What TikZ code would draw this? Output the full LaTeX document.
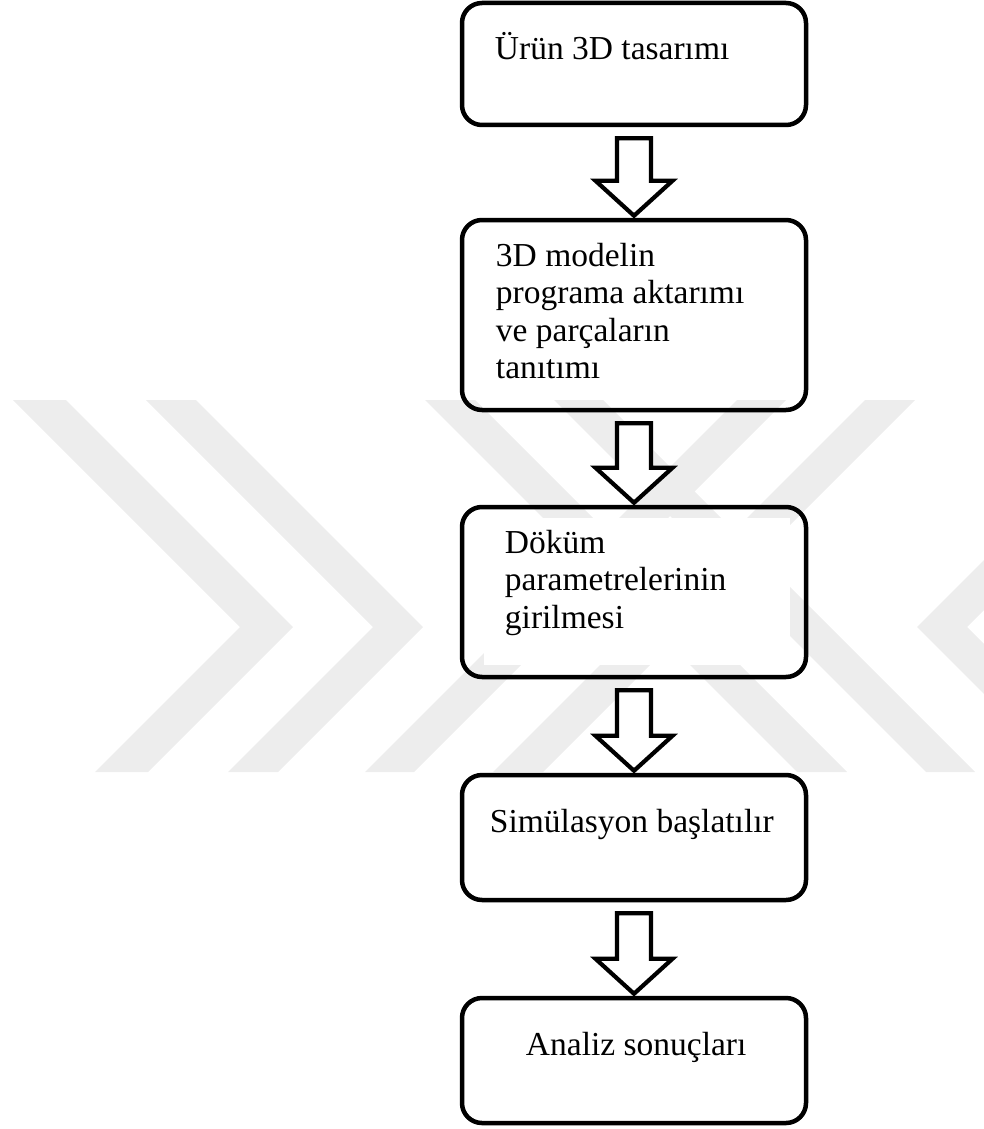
\documentclass[tikz,border=0pt]{standalone}
\usepackage{fontspec}
\setmainfont{Liberation Serif}
\usetikzlibrary{calc}

\definecolor{wmgray}{RGB}{237,237,237}

\tikzset{
  stepbox/.style={draw=black, line width=4.5pt, rounded corners=20pt,
    rectangle, minimum width=344pt, inner sep=0pt},
  steptext/.style={anchor=base west, inner sep=0pt, align=left,
    font=\fontsize{33.5pt}{37.5pt}\selectfont},
  blockarrow/.style={draw=black, fill=white, line width=4.2pt, line join=miter},
  wmark/.style={fill=wmgray, draw=none}
}

% hollow block arrow from the bottom of one box to the top of the next
\newcommand\flowarrow[2]{%
  \draw[blockarrow] let \p1=(#1.south), \p2=(#2.north) in
    (\x1-17pt,\y1-11pt) -- (\x1+17pt,\y1-11pt) -- (\x1+17pt,\y2+37pt)
    -- (\x1+38.5pt,\y2+37pt) -- (\x1,\y2+2pt) -- (\x1-38.5pt,\y2+37pt)
    -- (\x1-17pt,\y2+37pt) -- cycle;}

\begin{document}
\begin{tikzpicture}[x=1pt,y=-1pt]
\useasboundingbox (0,0) rectangle (984,1129);

% background watermark stripes
\begin{scope}
  \clip (0,400) rectangle (984,772);
  % two nested chevrons on the left
  \fill[wmark] (13,400) -- (66,400) -- (293,627) -- (148,772) -- (95,772) -- (240,627) -- cycle;
  \fill[wmark] (146,400) -- (196,400) -- (423,627) -- (278,772) -- (228,772) -- (373,627) -- cycle;
  % crossing diagonal stripes in the middle
  \fill[wmark] (365,772) -- (414,772) -- (786,400) -- (737,400) -- cycle;
  \fill[wmark] (493,772) -- (543,772) -- (915,400) -- (865,400) -- cycle;
  \fill[wmark] (425,400) -- (475,400) -- (847,772) -- (797,772) -- cycle;
  \fill[wmark] (554,400) -- (603,400) -- (975,772) -- (926,772) -- cycle;
  % mirrored chevron at the right edge
  \fill[wmark] (1194,400) -- (1144,400) -- (917,627) -- (1062,772) -- (1112,772) -- (967,627) -- cycle;
\end{scope}

% process boxes
\node[stepbox, minimum height=122pt] (b1) at (634,64) {};
\node[stepbox, minimum height=190pt] (b2) at (634,315) {};
\node[stepbox, minimum height=170pt] (b3) at (634,592) {};
\node[stepbox, minimum height=125pt] (b4) at (634,837.5) {};
\node[stepbox, minimum height=125pt] (b5) at (634,1060.5) {};

% white text frames inside the second and third boxes
\fill[white] ($(b2.north west)+(24pt,-13pt)$) rectangle ($(b2.south east)+(-18pt,12pt)$);
\fill[white] ($(b3.north west)+(24pt,-13pt)$) rectangle ($(b3.south east)+(-18pt,14pt)$);

% labels
\node[steptext] (t1) at ($(b1.north west)+(35pt,-59pt)$) {Ürün 3D tasarımı};
\node[steptext, anchor=north west] (t2) at ($(b2.north west)+(36pt,-25pt)$)
  {3D modelin\\programa aktarımı\\ve parçaların\\tanıtımı};
\node[steptext, anchor=north west] (t3) at ($(b3.north west)+(45pt,-25pt)$)
  {Döküm\\parametrelerinin\\girilmesi};
\node[steptext] (t4) at ($(b4.north west)+(30pt,-60pt)$) {Simülasyon başlatılır};
\node[steptext] (t5) at ($(b5.north west)+(66pt,-60pt)$) {Analiz sonuçları};

% connectors
\flowarrow{b1}{b2}
\flowarrow{b2}{b3}
\flowarrow{b3}{b4}
\flowarrow{b4}{b5}
\end{tikzpicture}
\end{document}
